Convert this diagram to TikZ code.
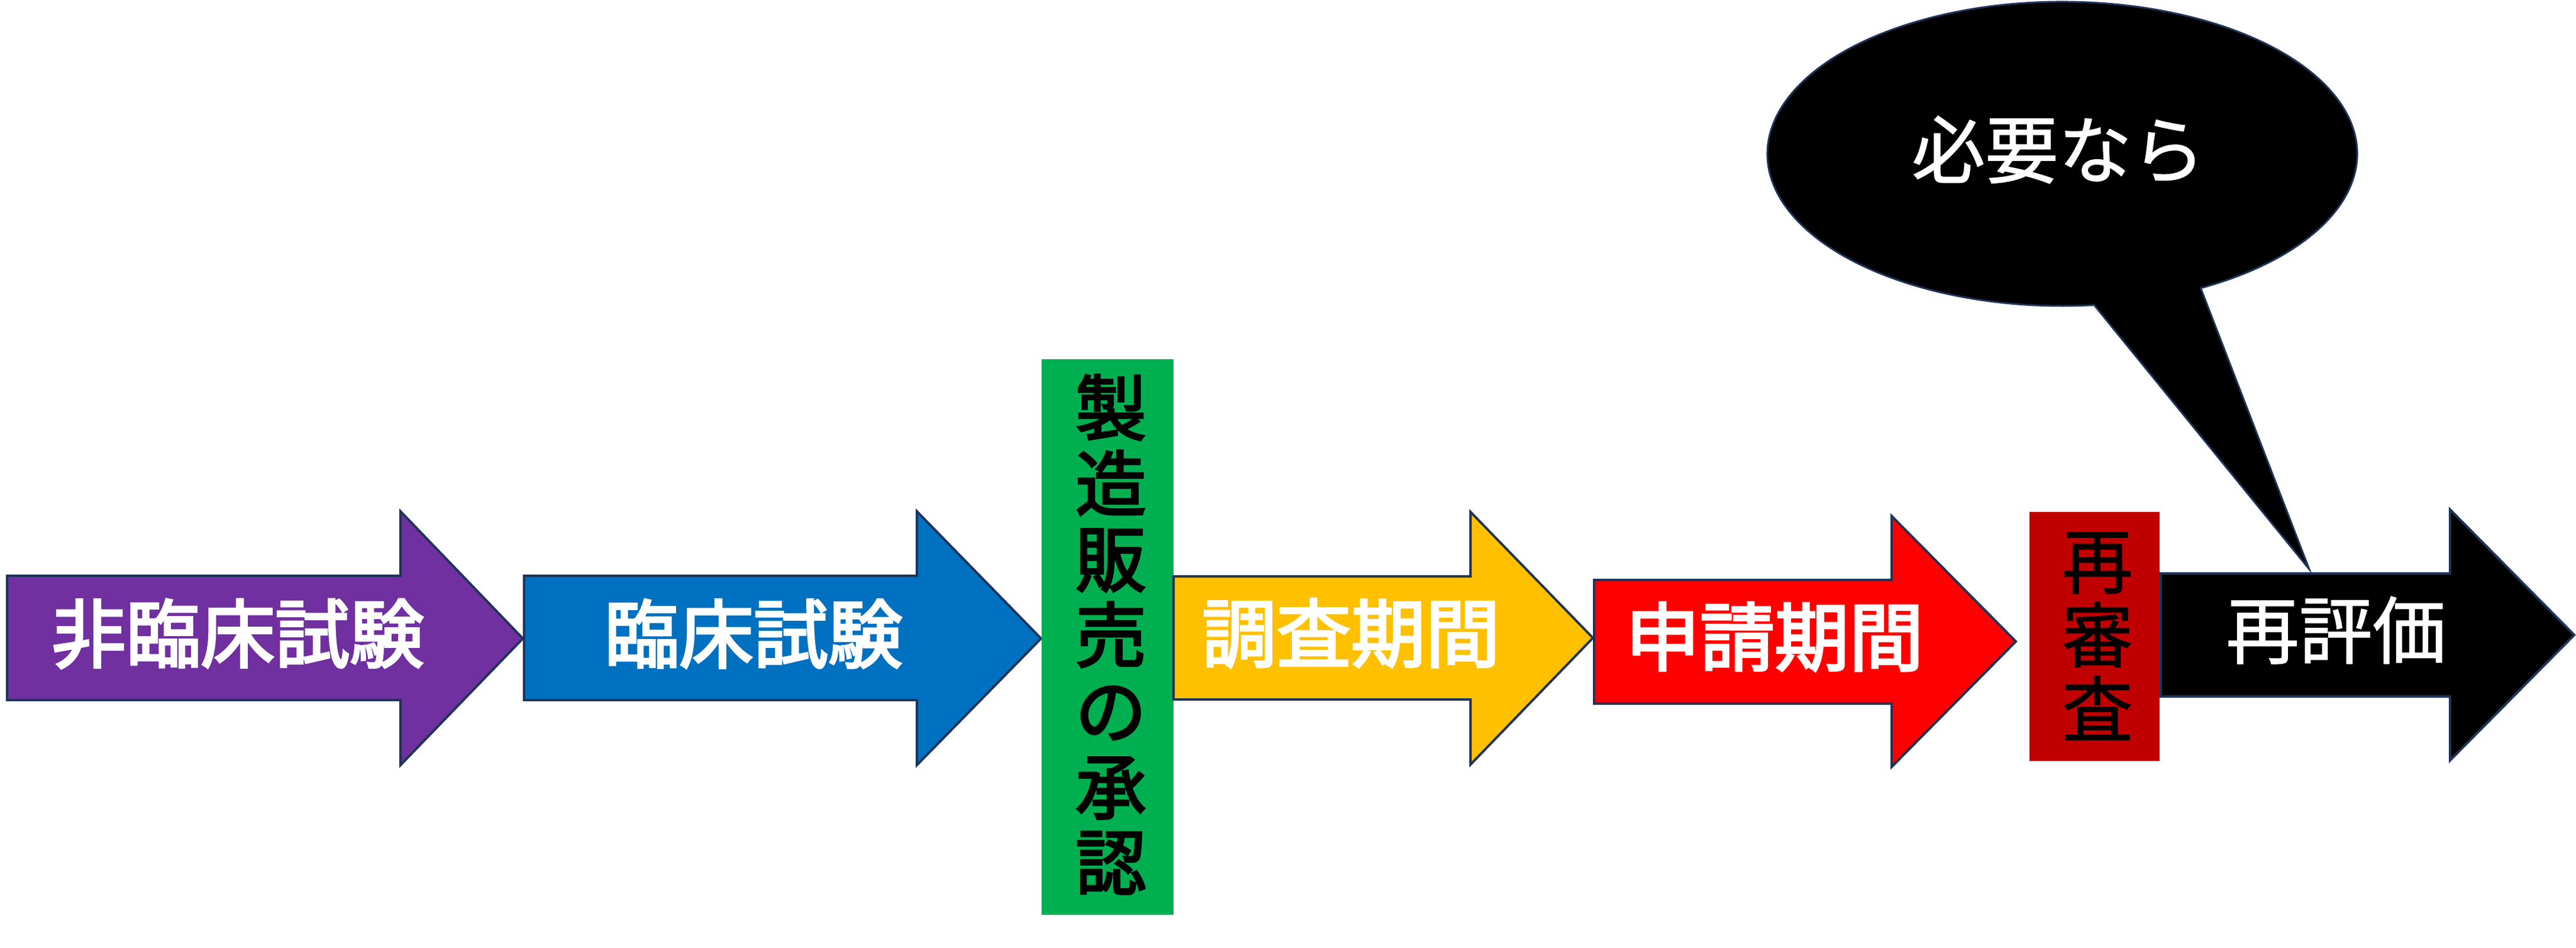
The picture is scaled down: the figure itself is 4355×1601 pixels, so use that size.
\documentclass[tikz,border=0pt]{standalone}
\usepackage{fontspec}
\newfontfamily\jp{Noto Sans CJK JP}
\newfontfamily\jpm{Noto Sans CJK JP}[FakeBold=3]
\newfontfamily\jpl{Noto Sans CJK JP}[FakeBold=1.2]
\definecolor{navy}{HTML}{1F3458}
\definecolor{cpurple}{HTML}{7030A0}
\definecolor{cblue}{HTML}{0070C0}
\definecolor{cgreen}{HTML}{00B050}
\definecolor{cyellow}{HTML}{FFC000}
\definecolor{cred}{HTML}{FF0000}
\definecolor{cdarkred}{HTML}{C00000}
\begin{document}
\begin{tikzpicture}[x=1pt,y=-1pt,
  arrowshape/.style={draw=navy, line width=4pt, line join=miter},
  lab/.style={font=\jpm\fontsize{126}{128}\selectfont, text=white, inner sep=0pt},
  labthin/.style={font=\jpl\fontsize{124}{128}\selectfont, text=white, inner sep=0pt},
  vlab/.style={font=\jpm\fontsize{120}{128}\selectfont, align=center, inner sep=0pt, text=black},
  vlabthin/.style={font=\jpl\fontsize{120}{125}\selectfont, align=center, inner sep=0pt, text=black}]
\useasboundingbox (0,0) rectangle (4355,1601);
% arrows
\draw[arrowshape, fill=cpurple] (12,973) -- (677,973) -- (677,864) -- (884,1079) -- (677,1293) -- (677,1183) -- (12,1183) -- cycle;
\draw[arrowshape, fill=cblue] (886,973) -- (1550,973) -- (1550,864) -- (1760,1079) -- (1550,1293) -- (1550,1183) -- (886,1183) -- cycle;
\fill[cgreen] (1761,607) rectangle (1984,1546);
\draw[arrowshape, fill=cyellow] (1984,974) -- (2486,974) -- (2486,865) -- (2693,1078) -- (2486,1292) -- (2486,1182) -- (1984,1182) -- cycle;
\draw[arrowshape, fill=cred] (2695,980) -- (3198,980) -- (3198,872) -- (3408,1084) -- (3198,1296) -- (3198,1189) -- (2695,1189) -- cycle;
\fill[cdarkred] (3431,865) rectangle (3651,1286);
\draw[arrowshape, fill=black] (3653,969) -- (4142,969) -- (4142,861) -- (4352,1073) -- (4142,1285) -- (4142,1177) -- (3653,1177) -- cycle;
% labels
\node[lab] (t1) at (402,1071) {非臨床試験};
\node[lab] (t2) at (1274,1071) {臨床試験};
\node[vlab] (t3) at (1878,1072) {製\\造\\販\\売\\の\\承\\認};
\node[lab] (t4) at (2284,1070) {調査期間};
\node[lab] (t5) at (3000,1076) {申請期間};
\node[vlabthin] (t6) at (3546,1075) {再\\審\\査};
\node[labthin] (t7) at (3949,1065) {再評価};
% speech bubble
\coordinate (bc) at (3486.5,260);
\coordinate (tip) at (3904,962);
\draw[draw=navy, line width=3pt, fill=black, line join=miter]
  ([shift={(62:498.5 and 257)}]bc) arc[start angle=62, end angle=-276.2, x radius=498.5, y radius=257]
  -- (tip) -- cycle;
\node[labthin] (t8) at (3480,253) {必要なら};
\end{tikzpicture}
\end{document}
